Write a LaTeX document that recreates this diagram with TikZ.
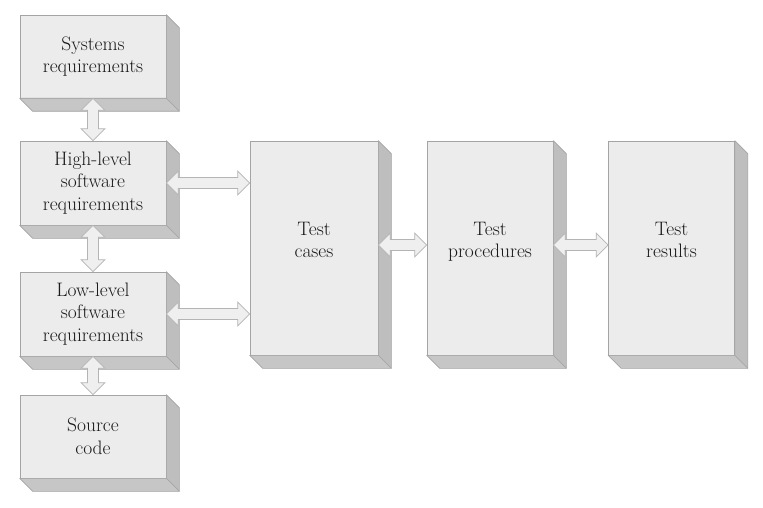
\documentclass[tikz,border=0pt]{standalone}
\usetikzlibrary{calc}
\definecolor{frontc}{HTML}{ECECEC}
\definecolor{edgec}{HTML}{A4A4A4}
\definecolor{sidec}{HTML}{BEBEBE}
\definecolor{botc}{HTML}{C6C6C6}
\definecolor{arrfill}{HTML}{EFEFEF}
\definecolor{arredge}{HTML}{B4B4B4}
\definecolor{textc}{HTML}{1A1A1A}
\tikzset{
  box/.style={draw=edgec, fill=frontc, line width=0.6pt, inner sep=0pt,
    align=center, text=textc, font=\fontsize{19.5}{22.5}\selectfont},
  face/.style={draw=edgec, line width=0.6pt, line join=round},
  blockarrow/.style={draw=arredge, fill=arrfill, line width=0.7pt, line join=miter}
}
\newcommand{\blockarr}[2]{%
  \draw[blockarrow] let \p1=(#1), \p2=(#2),
        \n1={atan2(\y2-\y1,\x2-\x1)}, \n2={veclen(\x2-\x1,\y2-\y1)},
        \n3={\n2-12pt} in
    ([shift={(\p1)},rotate=\n1]0pt,0pt)
    -- ([shift={(\p1)},rotate=\n1]12pt,12pt)
    -- ([shift={(\p1)},rotate=\n1]12pt,5.5pt)
    -- ([shift={(\p1)},rotate=\n1]\n3,5.5pt)
    -- ([shift={(\p1)},rotate=\n1]\n3,12pt)
    -- ([shift={(\p1)},rotate=\n1]\n2,0pt)
    -- ([shift={(\p1)},rotate=\n1]\n3,-12pt)
    -- ([shift={(\p1)},rotate=\n1]\n3,-5.5pt)
    -- ([shift={(\p1)},rotate=\n1]12pt,-5.5pt)
    -- ([shift={(\p1)},rotate=\n1]12pt,-12pt)
    -- cycle;}
\begin{document}
\begin{tikzpicture}[x=1pt,y=-1pt]
\useasboundingbox[fill=white] (0,0) rectangle (763,508);
% front faces
\node[box, minimum width=146pt, minimum height=83pt] (sys) at (93,56.5) {Systems\\requirements};
\node[box, minimum width=146pt, minimum height=84pt] (hl) at (93,183) {High-level\\software\\requirements};
\node[box, minimum width=146pt, minimum height=84pt] (ll) at (93,314) {Low-level\\software\\requirements};
\node[box, minimum width=146pt, minimum height=83pt] (src) at (93,436.5) {Source\\code};
\node[box, minimum width=128pt, minimum height=214pt] (tc) at (314,248) {Test\\cases\\[-6pt]};
\node[box, minimum width=126pt, minimum height=214pt] (tp) at (490,248) {Test\\procedures\\[-6pt]};
\node[box, minimum width=126pt, minimum height=214pt] (tr) at (671.5,248) {Test\\results\\[-6pt]};
% depth faces
\foreach \n in {sys,hl,ll,src,tc,tp,tr}{
  \draw[face, fill=sidec] (\n.north east) -- ++(13,13) -- ($(\n.south east)+(13,13)$) -- (\n.south east) -- cycle;
  \draw[face, fill=botc] (\n.south west) -- (\n.south east) -- ++(13,13) -- ($(\n.south west)+(13,13)$) -- cycle;
}
% connectors
\blockarr{sys.south}{hl.north}
\blockarr{hl.south}{ll.north}
\blockarr{ll.south}{src.north}
\blockarr{hl.east}{hl.east -| tc.west}
\blockarr{ll.east}{ll.east -| tc.west}
\blockarr{$(tc.east)+(0,-3)$}{$(tp.west)+(0,-3)$}
\blockarr{$(tp.east)+(0,-3)$}{$(tr.west)+(0,-3)$}
\end{tikzpicture}
\end{document}
